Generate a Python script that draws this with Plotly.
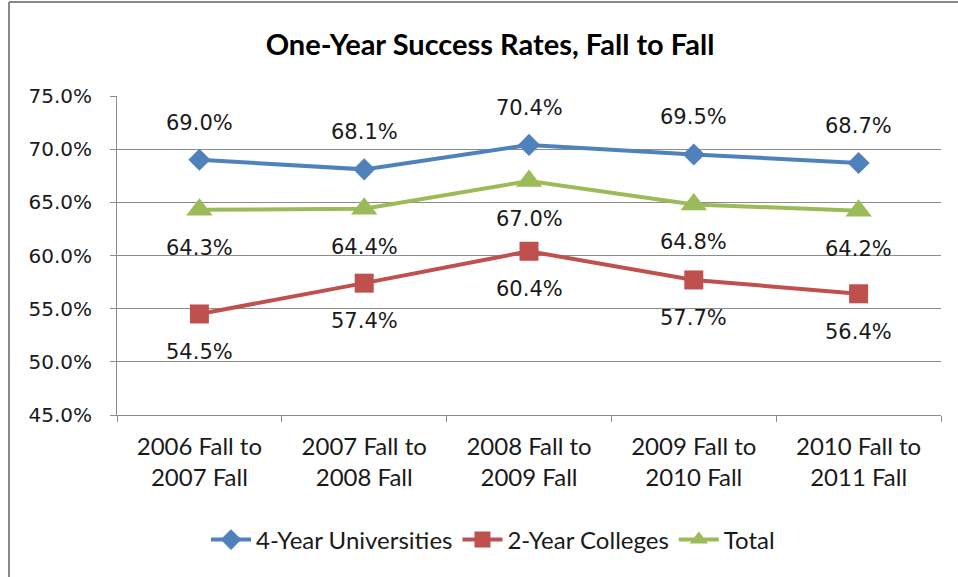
import plotly.graph_objects as go

# ── chart data ───────────────────────────────────────────────────────────
periods = [
    "2006 Fall to<br>2007 Fall",
    "2007 Fall to<br>2008 Fall",
    "2008 Fall to<br>2009 Fall",
    "2009 Fall to<br>2010 Fall",
    "2010 Fall to<br>2011 Fall",
]
universities_4yr = [69.0, 68.1, 70.4, 69.5, 68.7]
colleges_2yr = [54.5, 57.4, 60.4, 57.7, 56.4]
total = [64.3, 64.4, 67.0, 64.8, 64.2]

y_ticks = [45, 50, 55, 60, 65, 70, 75]

LABEL_FONT = "Lato, Carlito, Calibri, sans-serif"
NUM_FONT = "DejaVu Sans, Verdana, sans-serif"
GRID = "#8c8c8c"
TEXT = "#1a1a1a"

series = [
    ("4-Year Universities", universities_4yr, "#4F81BD", "diamond", 17, 37),
    ("2-Year Colleges", colleges_2yr, "#C0504D", "square", 19, -38),
    ("Total", total, "#9BBB59", "triangle-up", 23, -38),
]

fig = go.Figure()
annotations = []
for name, vals, color, symbol, msize, shift in series:
    fig.add_trace(
        go.Scatter(
            x=periods,
            y=vals,
            name=name,
            mode="lines+markers",
            line=dict(color=color, width=4),
            marker=dict(symbol=symbol, size=msize, color=color),
        )
    )
    # data labels sit well clear of the markers, like Excel's
    for p, v in zip(periods, vals):
        annotations.append(
            dict(
                x=p, y=v, xref="x", yref="y",
                text=f"{v:.1f}%", showarrow=False, yshift=shift,
                font=dict(family=NUM_FONT, size=21, color=TEXT),
            )
        )

# plot area is 117..941 px wide, 96..415 px tall
def px_x(px):
    return (px - 117) / 824


def px_y(py):
    return (415 - py) / 319


shapes = [
    # outer chart border (only left and top edges are visible)
    dict(type="line", xref="paper", yref="paper",
         x0=px_x(9), x1=px_x(9), y0=px_y(2), y1=px_y(580),
         line=dict(color="#888888", width=2)),
    dict(type="line", xref="paper", yref="paper",
         x0=px_x(9), x1=px_x(960), y0=px_y(2), y1=px_y(2),
         line=dict(color="#888888", width=2)),
]

fig.update_layout(
    width=958,
    height=577,
    margin=dict(l=117, r=17, t=96, b=162),
    paper_bgcolor="white",
    plot_bgcolor="white",
    title=dict(
        text="<b>One-Year Success Rates, Fall to Fall</b>",
        x=490 / 958, xanchor="center",
        y=1 - 45 / 577, yanchor="middle",
        font=dict(family=LABEL_FONT, size=29, color="black"),
    ),
    xaxis=dict(
        showgrid=False,
        showline=True, linecolor=GRID, linewidth=1,
        ticks="outside", ticklen=6, tickcolor=GRID, tickson="boundaries",
        ticklabelstandoff=10,
        tickfont=dict(family=LABEL_FONT, size=24, color=TEXT),
        range=[-0.5, 4.5],
    ),
    yaxis=dict(
        range=[45, 75],
        tickvals=y_ticks,
        ticktext=[f"{v:.1f}%" for v in y_ticks],
        showgrid=True, gridcolor=GRID, gridwidth=1,
        showline=True, linecolor=GRID, linewidth=1,
        ticks="outside", ticklen=6, tickcolor=GRID,
        ticklabelstandoff=14,
        tickfont=dict(family=NUM_FONT, size=20, color=TEXT),
        zeroline=False,
    ),
    legend=dict(
        orientation="h",
        x=px_x(493), xanchor="center",
        y=px_y(540), yanchor="middle",
        font=dict(family=LABEL_FONT, size=24, color=TEXT),
        itemwidth=40,
    ),
    annotations=annotations,
    shapes=shapes,
)

# drop the page's default 8px body margin so the figure sits at (0, 0)
fig.write_html(
    "out.html",
    config={"displayModeBar": False},
    post_script="document.body.style.margin='0';",
)
